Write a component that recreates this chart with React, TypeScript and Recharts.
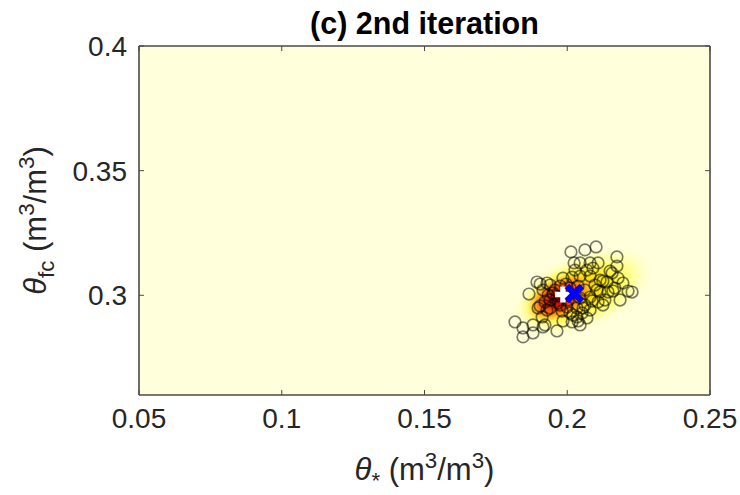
import React from 'react';
import { ScatterChart, Scatter, XAxis, YAxis, CartesianGrid, Label } from 'recharts';

// ---- data ----
const xTicks = [0.05, 0.1, 0.15, 0.2, 0.25];
const xTickLabels = ['0.05', '0.1', '0.15', '0.2', '0.25'];
const yTicks = [0.3, 0.35, 0.4];
const yTickLabels = ['0.3', '0.35', '0.4'];
const xDomain = [0.05, 0.25];
const yDomain = [0.26, 0.4];

// ensemble samples (theta_*, theta_fc)
const samplesX = [
  0.2101, 0.2062, 0.2013, 0.2174, 0.2024, 0.2045, 0.2080, 0.2108, 0.2090, 0.2069,
  0.2157, 0.1894, 0.1929, 0.1940, 0.1985, 0.2017, 0.2045, 0.2115, 0.2139, 0.2178,
  0.2195, 0.2167, 0.2227, 0.1866, 0.1915, 0.1950, 0.2080, 0.2115, 0.2143, 0.1940,
  0.1968, 0.2108, 0.2062, 0.1898, 0.1929, 0.1999, 0.2034, 0.2080, 0.1912, 0.1880,
  0.1817, 0.1845, 0.1845, 0.1880, 0.1915, 0.1964, 0.2017, 0.2045, 0.2069, 0.2034,
  0.2010, 0.2052, 0.2174, 0.1905, 0.2080, 0.2125, 0.2150, 0.2213, 0.2160, 0.2104,
  0.2087, 0.2055, 0.2020, 0.2038, 0.1982, 0.1940, 0.1905, 0.1922, 0.1985, 0.1957,
  0.1975, 0.1996, 0.1964, 0.1933, 0.2010, 0.2038, 0.2062, 0.2045, 0.2003, 0.1975,
  0.1922, 0.2097, 0.2132, 0.2185, 0.2027, 0.2125,
];
const samplesY = [
  0.3194, 0.3182, 0.3174, 0.3154, 0.3130, 0.3130, 0.3130, 0.3130, 0.3109, 0.3101,
  0.3089, 0.3053, 0.3049, 0.3041, 0.3069, 0.3073, 0.3077, 0.3061, 0.3053, 0.3069,
  0.3049, 0.3029, 0.3013, 0.3005, 0.3021, 0.3009, 0.2993, 0.3013, 0.3013, 0.2981,
  0.2969, 0.2973, 0.2961, 0.2949, 0.2941, 0.2953, 0.2949, 0.2941, 0.2913, 0.2881,
  0.2893, 0.2869, 0.2833, 0.2849, 0.2873, 0.2857, 0.2893, 0.2881, 0.2909, 0.2913,
  0.2929, 0.2929, 0.3117, 0.3045, 0.3077, 0.3057, 0.3097, 0.3017, 0.3017, 0.3021,
  0.2977, 0.2949, 0.2921, 0.2897, 0.2937, 0.2949, 0.2957, 0.2881, 0.2897, 0.3021,
  0.3037, 0.3045, 0.2997, 0.3001, 0.3029, 0.3037, 0.3021, 0.2989, 0.2981, 0.2961,
  0.2973, 0.3041, 0.2981, 0.2981, 0.3101, 0.2961,
];

// density field centres (posterior density glow)
const densityX = [0.2050, 0.2005, 0.1972];
const densityY = [0.3013, 0.3001, 0.2989];
const densityLayer = ['halo', 'mid', 'core'];

const priorPoint = [{ x: 0.1985, y: 0.3003 }];
const meanPoint = [{ x: 0.2025, y: 0.3007 }];

const samples = samplesX.map((x, i) => ({ x, y: samplesY[i] }));
const density = densityX.map((x, i) => ({ x, y: densityY[i], layer: densityLayer[i] }));

// ---- styles ----
const FONT = '"Liberation Sans", Arial, Helvetica, sans-serif';
const TXT = '#262626';
const AX = '#4a4a4a';
const FS = 28;
const LFS = 31;
const TM = 12;

const layerStyle: Record<string, any> = {
  halo: {
    rx: 80, ry: 40, rot: -22,
    stops: [
      [0, '#ffee00', 1],
      [0.35, '#fff200', 0.9],
      [0.65, '#ffff40', 0.5],
      [1, '#ffffdc', 0],
    ],
  },
  mid: {
    rx: 52, ry: 27, rot: -24,
    stops: [
      [0, '#ffb000', 1],
      [0.5, '#ffd000', 0.7],
      [1, '#ffee00', 0],
    ],
  },
  core: {
    rx: 34, ry: 20, rot: -26,
    stops: [
      [0, '#a00000', 1],
      [0.3, '#e01000', 1],
      [0.62, '#ff5a00', 0.85],
      [1, '#ffa000', 0],
    ],
  },
};

const DensityShape = (props: any) => {
  const { cx, cy, payload } = props;
  const st = layerStyle[payload.layer];
  const id = `dens-${payload.layer}`;
  return (
    <g>
      <defs>
        <radialGradient id={id} cx="50%" cy="50%" r="50%">
          {st.stops.map((s: any, i: number) => (
            <stop key={i} offset={s[0]} stopColor={s[1]} stopOpacity={s[2]} />
          ))}
        </radialGradient>
      </defs>
      <ellipse
        cx={cx}
        cy={cy}
        rx={st.rx}
        ry={st.ry}
        fill={`url(#${id})`}
        transform={`rotate(${st.rot} ${cx} ${cy})`}
      />
    </g>
  );
};

const CircleShape = (props: any) => (
  <circle cx={props.cx} cy={props.cy} r={5.8} fill="none" stroke="rgba(0,0,0,0.52)" strokeWidth={1.7} />
);

const PlusShape = (props: any) => {
  const { cx, cy } = props;
  const h = 8;
  return (
    <g stroke="#ffffff" strokeWidth={5.5}>
      <line x1={cx - h} y1={cy} x2={cx + h} y2={cy} />
      <line x1={cx} y1={cy - h} x2={cx} y2={cy + h} />
    </g>
  );
};

const CrossShape = (props: any) => {
  const { cx, cy } = props;
  const h = 7.5;
  return (
    <g stroke="#0000ff" strokeWidth={6.5}>
      <line x1={cx - h} y1={cy - h} x2={cx + h} y2={cy + h} />
      <line x1={cx - h} y1={cy + h} x2={cx + h} y2={cy - h} />
    </g>
  );
};

const fmtX = (v: number) => xTickLabels[xTicks.findIndex((t) => Math.abs(t - v) < 1e-9)] ?? '';
const fmtY = (v: number) => yTickLabels[yTicks.findIndex((t) => Math.abs(t - v) < 1e-9)] ?? '';

const BottomTick = (props: any) => {
  const { x, y, payload } = props;
  const ay = y - TM;
  return (
    <g>
      <line x1={x} y1={ay} x2={x} y2={ay - 5} stroke={AX} strokeWidth={1} />
      <text x={x} y={y + FS * 0.74} textAnchor="middle" fill={TXT} fontSize={FS} fontFamily={FONT}>
        {fmtX(payload.value)}
      </text>
    </g>
  );
};

const TopTick = (props: any) => {
  const { x, y } = props;
  const ay = y + TM;
  return <line x1={x} y1={ay} x2={x} y2={ay + 5} stroke={AX} strokeWidth={1} />;
};

const LeftTick = (props: any) => {
  const { x, y, payload } = props;
  const ax = x + TM;
  return (
    <g>
      <line x1={ax} y1={y} x2={ax + 5} y2={y} stroke={AX} strokeWidth={1} />
      <text x={x} y={y + FS * 0.36} textAnchor="end" fill={TXT} fontSize={FS} fontFamily={FONT}>
        {fmtY(payload.value)}
      </text>
    </g>
  );
};

const RightTick = (props: any) => {
  const { x, y } = props;
  const ax = x - TM;
  return <line x1={ax} y1={y} x2={ax - 5} y2={y} stroke={AX} strokeWidth={1} />;
};

const SUB = LFS * 0.72;

const XLabel = (props: any) => {
  const vb = props.viewBox || {};
  const cx = vb.x + vb.width / 2;
  const by = vb.y + 85;
  return (
    <text x={cx} y={by} textAnchor="middle" fill={TXT} fontSize={LFS} fontFamily={FONT}>
      <tspan fontStyle="italic">θ</tspan>
      <tspan fontSize={SUB} dy={8}>*</tspan>
      <tspan dy={-8}> (m</tspan>
      <tspan fontSize={SUB} dy={-12}>3</tspan>
      <tspan dy={12}>/m</tspan>
      <tspan fontSize={SUB} dy={-12}>3</tspan>
      <tspan dy={12}>)</tspan>
    </text>
  );
};

const YLabel = (props: any) => {
  const vb = props.viewBox || {};
  const cy = vb.y + vb.height / 2;
  const bx = 46;
  return (
    <text
      x={bx}
      y={cy}
      textAnchor="middle"
      fill={TXT}
      fontSize={LFS}
      fontFamily={FONT}
      transform={`rotate(-90 ${bx} ${cy})`}
    >
      <tspan fontStyle="italic">θ</tspan>
      <tspan fontSize={SUB} dy={8}>fc</tspan>
      <tspan dy={-8}> (m</tspan>
      <tspan fontSize={SUB} dy={-12}>3</tspan>
      <tspan dy={12}>/m</tspan>
      <tspan fontSize={SUB} dy={-12}>3</tspan>
      <tspan dy={12}>)</tspan>
    </text>
  );
};

const Title = (props: any) => {
  const vb = props.viewBox || {};
  return (
    <text
      x={vb.x + vb.width / 2}
      y={34}
      textAnchor="middle"
      fill="#000"
      fontSize={30.5}
      fontWeight="bold"
      fontFamily={FONT}
    >
      (c) 2nd iteration
    </text>
  );
};

export default function App() {
  return (
    <div style={{ position: 'absolute', left: 0, top: 0, width: 740, height: 495, background: '#fff' }}>
      <ScatterChart width={740} height={495} margin={{ top: 36, right: 20, bottom: 40, left: 79 }}>
        <CartesianGrid xAxisId="b" yAxisId="l" horizontal={false} vertical={false} fill="#ffffdc" fillOpacity={1} />
        <XAxis
          xAxisId="b"
          dataKey="x"
          type="number"
          domain={xDomain}
          ticks={xTicks}
          allowDataOverflow
          orientation="bottom"
          height={60}
          tickSize={0}
          tickMargin={TM}
          tick={<BottomTick />}
          axisLine={{ stroke: AX, strokeWidth: 1.6 }}
          interval={0}
        >
          <Label content={<XLabel />} />
        </XAxis>
        <XAxis
          xAxisId="t"
          dataKey="x"
          type="number"
          domain={xDomain}
          ticks={xTicks}
          allowDataOverflow
          orientation="top"
          height={10}
          tickSize={0}
          tickMargin={TM}
          tick={<TopTick />}
          axisLine={{ stroke: AX, strokeWidth: 1.6 }}
          interval={0}
        >
          <Label content={<Title />} />
        </XAxis>
        <YAxis
          yAxisId="l"
          dataKey="y"
          type="number"
          domain={yDomain}
          ticks={yTicks}
          allowDataOverflow
          orientation="left"
          width={60}
          tickSize={0}
          tickMargin={TM}
          tick={<LeftTick />}
          axisLine={{ stroke: AX, strokeWidth: 1.6 }}
          interval={0}
        >
          <Label content={<YLabel />} />
        </YAxis>
        <YAxis
          yAxisId="r"
          dataKey="y"
          type="number"
          domain={yDomain}
          ticks={yTicks}
          allowDataOverflow
          orientation="right"
          width={10}
          tickSize={0}
          tickMargin={TM}
          tick={<RightTick />}
          axisLine={{ stroke: AX, strokeWidth: 1.6 }}
          interval={0}
        />
        <Scatter xAxisId="b" yAxisId="l" data={density} shape={<DensityShape />} isAnimationActive={false} />
        <Scatter xAxisId="b" yAxisId="l" data={samples} shape={<CircleShape />} isAnimationActive={false} />
        <Scatter xAxisId="b" yAxisId="l" data={priorPoint} shape={<PlusShape />} isAnimationActive={false} />
        <Scatter xAxisId="b" yAxisId="l" data={meanPoint} shape={<CrossShape />} isAnimationActive={false} />
      </ScatterChart>
    </div>
  );
}
